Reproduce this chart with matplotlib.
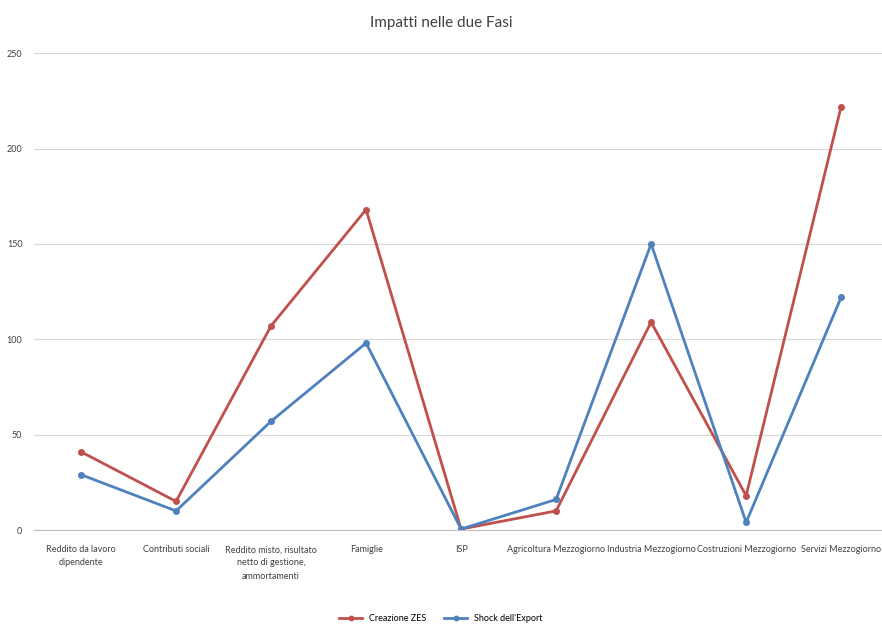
# Grafico: impatti nelle due fasi
import matplotlib.pyplot as plt

# Categorie e valori
categorie = ['Reddito da lavoro\ndipendente', 'Contributi sociali',
             'Reddito misto, risultato\nnetto di gestione,\nammortamenti',
             'Famiglie', 'ISP', 'Agricoltura Mezzogiorno', 'Industria Mezzogiorno',
             'Costruzioni Mezzogiorno', 'Servizi Mezzogiorno']
creazione_zes = [41, 15, 107, 168, 0.5, 10, 109, 18, 222]
shock_export = [29, 10, 57, 98, 0.5, 16, 150, 4, 122]
y_ticks = [0, 50, 100, 150, 200, 250]

plt.rcParams['font.family'] = ['Lato', 'DejaVu Sans']

fig = plt.figure(figsize=(8.82, 6.25), dpi=100)
ax = fig.add_axes([0.038, 0.152, 0.962, 0.763])

x = list(range(len(categorie)))
ax.plot(x, creazione_zes, color='#c0504d', lw=2, marker='o', ms=4, label='Creazione ZES')
ax.plot(x, shock_export, color='#4f81bd', lw=2, marker='o', ms=4, label="Shock dell'Export")

ax.set_xlim(-0.5, 8.43)
ax.set_ylim(0, 250)
ax.set_yticks(y_ticks)
ax.set_xticks(x)
ax.set_xticklabels(categorie, fontsize=6.5, color='#404040', va='top', linespacing=1.6)
ax.tick_params(axis='y', labelsize=6.5, colors='#404040', length=0, pad=8)
ax.tick_params(axis='x', length=0, pad=11)
ax.grid(axis='y', color='#d9d9d9', lw=0.8)
ax.set_axisbelow(True)
for s in ['top', 'right', 'left']:
    ax.spines[s].set_visible(False)
ax.spines['bottom'].set_color('#bfbfbf')

fig.suptitle('Impatti nelle due Fasi', y=0.975, fontsize=11, color='#404040')
fig.legend(loc='lower center', ncol=2, frameon=False, fontsize=6.5,
           bbox_to_anchor=(0.5, -0.01), handlelength=2.5, markerscale=0.8)

fig.savefig('out.png', dpi=100)
